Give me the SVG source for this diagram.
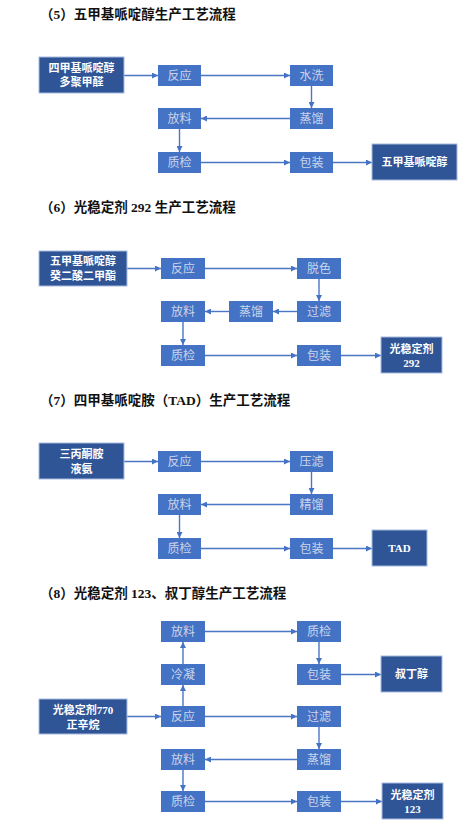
<svg xmlns="http://www.w3.org/2000/svg" width="471" height="824" viewBox="0 0 471 824">
<style>
.title{font-family:"Liberation Serif","Noto Sans CJK SC",serif;font-weight:bold;font-size:13.5px;fill:#111}
.n rect{fill:#4472C4}
.n text{font-family:"Liberation Serif","Noto Sans CJK SC",serif;font-size:12px;fill:#CBD5EA;text-anchor:middle}
.d rect{fill:#2F5597;stroke:#A9BCE0;stroke-width:1}
.d text{font-family:"Liberation Serif","Noto Sans CJK SC",sans-serif;font-weight:bold;font-size:11px;fill:#FFFFFF;text-anchor:middle}
.c path{fill:none;stroke:#4A76C6;stroke-width:1.4;marker-end:url(#ah)}
</style>
<defs>
<marker id="ah" viewBox="0 0 10 10" refX="10" refY="5" markerWidth="6" markerHeight="6" markerUnits="userSpaceOnUse" orient="auto">
<path d="M0,0 L10,5 L0,10 z" fill="#4472C4"/>
</marker>
</defs>
<rect width="471" height="824" fill="#FFFFFF"/>

<text class="title" x="40" y="18.5">（5）五甲基哌啶醇生产工艺流程</text>
<text class="title" x="40" y="211.5">（6）光稳定剂 292 生产工艺流程</text>
<text class="title" x="40" y="405">（7）四甲基哌啶胺（TAD）生产工艺流程</text>
<text class="title" x="40" y="598">（8）光稳定剂 123、叔丁醇生产工艺流程</text>

<g class="c" id="connectors">
<path d="M124,75.5 H158"/>
<path d="M201,75.5 H290"/>
<path d="M311.5,86 V108"/>
<path d="M290,118.5 H201"/>
<path d="M179.5,129 V152"/>
<path d="M201,162.5 H290"/>
<path d="M333,162.5 H372"/>

<path d="M127,268.5 H161"/>
<path d="M205,268.5 H297"/>
<path d="M319,279 V301"/>
<path d="M297,311.5 H273"/>
<path d="M229,311.5 H205"/>
<path d="M183,322 V345"/>
<path d="M205,355.5 H297"/>
<path d="M341,355.5 H381"/>

<path d="M124,461.5 H158"/>
<path d="M201,461.5 H290"/>
<path d="M311.5,472 V494"/>
<path d="M290,504.5 H201"/>
<path d="M179.5,515 V538"/>
<path d="M201,548.5 H290"/>
<path d="M333,548.5 H372"/>

<path d="M205,631.5 H297"/>
<path d="M319,642 V664"/>
<path d="M341,674.5 H381"/>
<path d="M183,706 V685"/>
<path d="M183,664 V642"/>
<path d="M127,716.5 H161"/>
<path d="M205,716.5 H297"/>
<path d="M319,727 V749"/>
<path d="M297,759.5 H205"/>
<path d="M183,770 V791"/>
<path d="M205,801.5 H297"/>
<path d="M341,801.5 H382"/>
</g>

<!-- Section 5 -->
<g class="d" id="s5-src"><rect x="39" y="57" width="85" height="36"/><text x="81.5" y="71.5">四甲基哌啶醇</text><text x="81.5" y="86">多聚甲醛</text></g>
<g class="n" id="s5-fanying"><rect x="158" y="65" width="43" height="21"/><text x="179.5" y="79.7">反应</text></g>
<g class="n" id="s5-shuixi"><rect x="290" y="65" width="43" height="21"/><text x="311.5" y="79.7">水洗</text></g>
<g class="n" id="s5-fangliao"><rect x="158" y="108" width="43" height="21"/><text x="179.5" y="122.7">放料</text></g>
<g class="n" id="s5-zhengliu"><rect x="290" y="108" width="43" height="21"/><text x="311.5" y="122.7">蒸馏</text></g>
<g class="n" id="s5-zhijian"><rect x="158" y="152" width="43" height="21"/><text x="179.5" y="166.7">质检</text></g>
<g class="n" id="s5-baozhuang"><rect x="290" y="152" width="43" height="21"/><text x="311.5" y="166.7">包装</text></g>
<g class="d" id="s5-product"><rect x="372" y="144" width="85" height="36"/><text x="414.5" y="166">五甲基哌啶醇</text></g>

<!-- Section 6 -->
<g class="d" id="s6-src"><rect x="39" y="251" width="88" height="35"/><text x="83" y="264.5">五甲基哌啶醇</text><text x="83" y="280">癸二酸二甲酯</text></g>
<g class="n" id="s6-fanying"><rect x="161" y="258" width="44" height="21"/><text x="183" y="272.7">反应</text></g>
<g class="n" id="s6-tuose"><rect x="297" y="258" width="44" height="21"/><text x="319" y="272.7">脱色</text></g>
<g class="n" id="s6-guolv"><rect x="297" y="301" width="44" height="21"/><text x="319" y="315.7">过滤</text></g>
<g class="n" id="s6-zhengliu"><rect x="229" y="301" width="44" height="21"/><text x="251" y="315.7">蒸馏</text></g>
<g class="n" id="s6-fangliao"><rect x="161" y="301" width="44" height="21"/><text x="183" y="315.7">放料</text></g>
<g class="n" id="s6-zhijian"><rect x="161" y="345" width="44" height="21"/><text x="183" y="359.7">质检</text></g>
<g class="n" id="s6-baozhuang"><rect x="297" y="345" width="44" height="21"/><text x="319" y="359.7">包装</text></g>
<g class="d" id="s6-product"><rect x="381" y="337" width="61" height="36"/><text x="411.5" y="352.5">光稳定剂</text><text x="411.5" y="366.5">292</text></g>

<!-- Section 7 -->
<g class="d" id="s7-src"><rect x="39" y="443" width="85" height="36"/><text x="81.5" y="458">三丙酮胺</text><text x="81.5" y="473">液氨</text></g>
<g class="n" id="s7-fanying"><rect x="158" y="451" width="43" height="21"/><text x="179.5" y="465.7">反应</text></g>
<g class="n" id="s7-yalv"><rect x="290" y="451" width="43" height="21"/><text x="311.5" y="465.7">压滤</text></g>
<g class="n" id="s7-fangliao"><rect x="158" y="494" width="43" height="21"/><text x="179.5" y="508.7">放料</text></g>
<g class="n" id="s7-jingliu"><rect x="290" y="494" width="43" height="21"/><text x="311.5" y="508.7">精馏</text></g>
<g class="n" id="s7-zhijian"><rect x="158" y="538" width="43" height="21"/><text x="179.5" y="552.7">质检</text></g>
<g class="n" id="s7-baozhuang"><rect x="290" y="538" width="43" height="21"/><text x="311.5" y="552.7">包装</text></g>
<g class="d" id="s7-product"><rect x="372" y="530" width="55" height="36"/><text x="399.5" y="552">TAD</text></g>

<!-- Section 8 -->
<g class="n" id="s8-fangliao1"><rect x="161" y="621" width="44" height="21"/><text x="183" y="635.7">放料</text></g>
<g class="n" id="s8-zhijian1"><rect x="297" y="621" width="44" height="21"/><text x="319" y="635.7">质检</text></g>
<g class="n" id="s8-lengning"><rect x="161" y="664" width="44" height="21"/><text x="183" y="678.7">冷凝</text></g>
<g class="n" id="s8-baozhuang1"><rect x="297" y="664" width="44" height="21"/><text x="319" y="678.7">包装</text></g>
<g class="d" id="s8-product1"><rect x="381" y="656" width="61" height="36"/><text x="411.5" y="678">叔丁醇</text></g>
<g class="d" id="s8-src"><rect x="39" y="699" width="88" height="35"/><text x="83" y="714">光稳定剂770</text><text x="83" y="729">正辛烷</text></g>
<g class="n" id="s8-fanying"><rect x="161" y="706" width="44" height="21"/><text x="183" y="720.7">反应</text></g>
<g class="n" id="s8-guolv"><rect x="297" y="706" width="44" height="21"/><text x="319" y="720.7">过滤</text></g>
<g class="n" id="s8-fangliao2"><rect x="161" y="749" width="44" height="21"/><text x="183" y="763.7">放料</text></g>
<g class="n" id="s8-zhengliu"><rect x="297" y="749" width="44" height="21"/><text x="319" y="763.7">蒸馏</text></g>
<g class="n" id="s8-zhijian2"><rect x="161" y="791" width="44" height="21"/><text x="183" y="805.7">质检</text></g>
<g class="n" id="s8-baozhuang2"><rect x="297" y="791" width="44" height="21"/><text x="319" y="805.7">包装</text></g>
<g class="d" id="s8-product2"><rect x="382" y="783" width="61" height="36"/><text x="412.5" y="798.5">光稳定剂</text><text x="412.5" y="812.5">123</text></g>
</svg>
